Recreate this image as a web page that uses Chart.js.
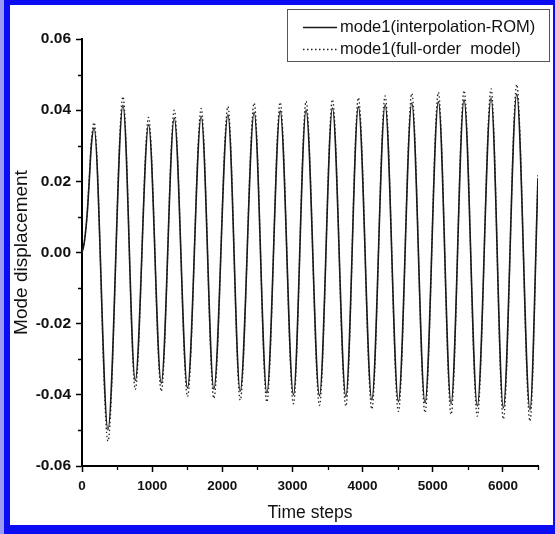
<!DOCTYPE html>
<html>
<head>
<meta charset="utf-8">
<script src="https://cdn.jsdelivr.net/npm/chart.js@4.4.1/dist/chart.umd.min.js"></script>
<style>
  html, body { margin: 0; padding: 0; }
  body { width: 555px; height: 534px; background: #0c0cf2; position: relative; overflow: hidden; }
  #edge { position: absolute; left: 0; top: 0; width: 4px; height: 534px; background: #9a9af4; }
  #paper { position: absolute; left: 10px; top: 5px; width: 543px; height: 520px; background: #fff; }
  #wrap { position: absolute; left: 0; top: 0; width: 555px; height: 534px; }
</style>
</head>
<body>
<div id="edge"></div>
<div id="paper"></div>
<div id="wrap"><canvas id="modeChart" width="555" height="534"></canvas></div>
<script>
// time steps of the read-off points (start, then peaks / troughs, then last point)
const timeSteps = [0, 30, 71, 104, 132, 172, 370, 584, 759, 949, 1130, 1315, 1504, 1699, 1880, 2080,
  2255, 2454, 2635, 2825, 3014, 3194, 3385, 3570, 3761, 3940, 4131, 4321, 4510, 4701, 4890,
  5080, 5261, 5446, 5635, 5831, 6006, 6197, 6386, 6500];

const romValues = [0, 0.0025, 0.0101, 0.0204, 0.0298, 0.035, -0.0498, 0.0414, -0.036, 0.0359,
  -0.0367, 0.0378, -0.0381, 0.0382, -0.0384, 0.0387, -0.039, 0.0394, -0.0395, 0.0398, -0.040,
  0.040, -0.0403, 0.0406, -0.0405, 0.041, -0.0414, 0.0415, -0.0419, 0.042, -0.0422, 0.0424,
  -0.0425, 0.0429, -0.0431, 0.0434, -0.0437, 0.0445, -0.0442, 0.0209];

const fullOrderValues = [0, 0.0025, 0.0103, 0.021, 0.031, 0.0365, -0.053, 0.0438, -0.0385, 0.038,
  -0.039, 0.040, -0.0405, 0.0405, -0.041, 0.041, -0.0415, 0.042, -0.042, 0.0422, -0.0425,
  0.0425, -0.043, 0.043, -0.0432, 0.0435, -0.044, 0.044, -0.0447, 0.0447, -0.045, 0.045,
  -0.0455, 0.0455, -0.046, 0.046, -0.0468, 0.0472, -0.0474, 0.022];

const seriesLabels = ['mode1(interpolation-ROM)', 'mode1(full-order  model)'];

const xTicks = [0, 1000, 2000, 3000, 4000, 5000, 6000];
const xMinorTicks = [500, 1500, 2500, 3500, 4500, 5500, 6500];
const yTicks = [-0.06, -0.04, -0.02, 0, 0.02, 0.04, 0.06];
const yMinorTicks = [-0.05, -0.03, -0.01, 0.01, 0.03, 0.05];

const fontFamily = '"Liberation Sans", Arial, Helvetica, sans-serif';

function toPoints(values) {
    return timeSteps.map((t, i) => ({ x: t, y: values[i] }));
}

/* short minor tick marks on both axes */
const minorTicks = {
    id: 'minorTicks',
    afterDraw(chart) {
        const { ctx, scales: { x, y } } = chart;
        ctx.save();
        ctx.strokeStyle = '#000';
        ctx.lineWidth = 1.3;
        ctx.beginPath();
        xMinorTicks.forEach(v => {
            const px = Math.round(x.getPixelForValue(v)) + 0.5;
            ctx.moveTo(px, x.top);
            ctx.lineTo(px, x.top + 4);
        });
        yMinorTicks.forEach(v => {
            const py = Math.round(y.getPixelForValue(v)) + 0.5;
            ctx.moveTo(y.right, py);
            ctx.lineTo(y.right - 4, py);
        });
        ctx.stroke();
        ctx.restore();
    }
};

/* boxed legend in the top right corner */
const boxLegend = {
    id: 'boxLegend',
    afterDraw(chart) {
        const ctx = chart.ctx;
        ctx.save();
        ctx.fillStyle = '#fff';
        ctx.fillRect(288, 10, 261, 51);
        ctx.strokeStyle = '#555';
        ctx.lineWidth = 1;
        ctx.strokeRect(287.5, 9.5, 262, 52);
        chart.data.datasets.forEach((ds, i) => {
            const yy = 27.5 + i * 22;
            ctx.beginPath();
            ctx.setLineDash(ds.borderDash || []);
            ctx.lineWidth = ds.borderWidth;
            ctx.strokeStyle = ds.borderColor;
            ctx.moveTo(303, yy);
            ctx.lineTo(337, yy);
            ctx.stroke();
            ctx.setLineDash([]);
            ctx.fillStyle = '#111';
            ctx.font = '16.5px ' + fontFamily;
            ctx.textBaseline = 'middle';
            ctx.fillText(ds.label, 340, yy);
        });
        ctx.restore();
    }
};

document.addEventListener("DOMContentLoaded", function () {
    const ctx = document.getElementById('modeChart');

    new Chart(ctx, {
        type: 'line',
        data: {
            datasets: [{
                label: seriesLabels[0],
                data: toPoints(romValues),
                borderColor: '#1a1a1a',
                borderWidth: 1.6,
                pointRadius: 0,
                fill: false,
                cubicInterpolationMode: 'monotone'
            }, {
                label: seriesLabels[1],
                data: toPoints(fullOrderValues),
                borderColor: '#222',
                borderWidth: 1.3,
                borderDash: [1.5, 2.5],
                pointRadius: 0,
                fill: false,
                cubicInterpolationMode: 'monotone'
            }]
        },
        options: {
            responsive: false,
            animation: false,
            layout: { padding: { left: 0, right: 17, top: 39, bottom: 0 } },
            plugins: {
                legend: { display: false },
                tooltip: { enabled: false }
            },
            scales: {
                x: {
                    type: 'linear',
                    min: 0,
                    max: 6500,
                    afterBuildTicks: s => { s.ticks = xTicks.map(v => ({ value: v })); },
                    afterFit: s => { s.height = 68; },
                    grid: { drawOnChartArea: false, tickLength: 6, tickColor: '#000', tickWidth: 1.5 },
                    border: { display: true, color: '#000', width: 2 },
                    ticks: {
                        color: '#111',
                        autoSkip: false,
                        maxRotation: 0,
                        padding: 6,
                        font: { family: fontFamily, size: 13.5, weight: 'bold' },
                        callback: v => String(v)
                    },
                    title: {
                        display: true,
                        text: 'Time steps',
                        color: '#111',
                        font: { family: fontFamily, size: 17.5 },
                        padding: { top: 0, bottom: 10 }
                    }
                },
                y: {
                    min: -0.06,
                    max: 0.06,
                    afterBuildTicks: s => { s.ticks = yTicks.map(v => ({ value: v })); },
                    afterFit: s => { s.width = 82; },
                    grid: { drawOnChartArea: false, tickLength: 6, tickColor: '#000', tickWidth: 1.5 },
                    border: { display: true, color: '#000', width: 2 },
                    ticks: {
                        color: '#111',
                        padding: 5,
                        font: { family: fontFamily, size: 15.5, weight: 'bold' },
                        callback: v => v.toFixed(2)
                    },
                    title: {
                        display: true,
                        text: 'Mode displacement',
                        color: '#111',
                        font: { family: fontFamily, size: 19 },
                        padding: { top: 10, bottom: 0 }
                    }
                }
            }
        },
        plugins: [minorTicks, boxLegend]
    });
});
</script>
</body>
</html>
